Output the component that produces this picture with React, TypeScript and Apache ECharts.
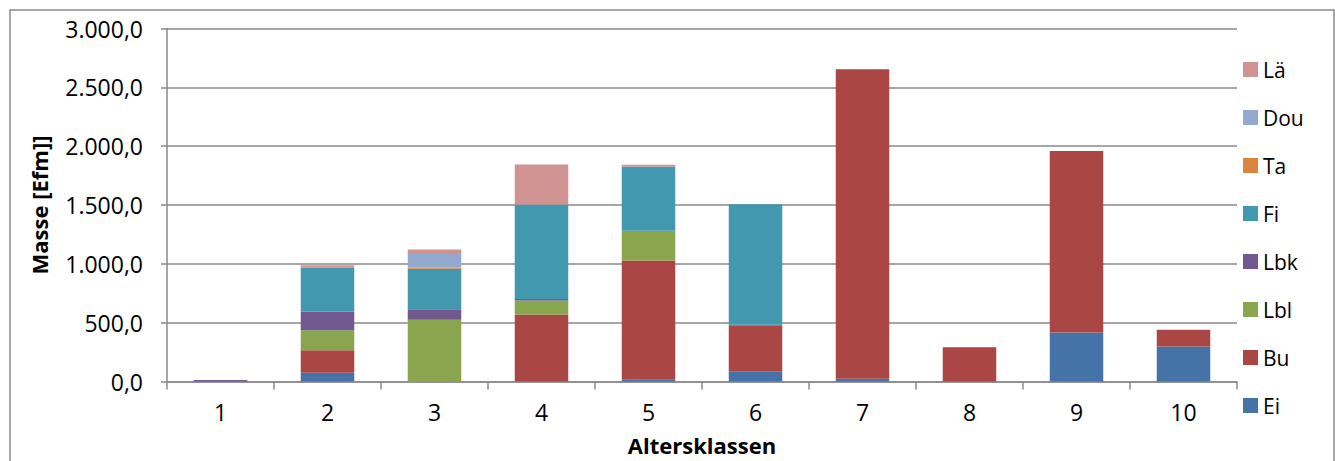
import React, { useEffect, useRef } from "react";
import * as echarts from "echarts";

const categories = ["1", "2", "3", "4", "5", "6", "7", "8", "9", "10"];
const seriesNames = ["Ei", "Bu", "Lbl", "Lbk", "Fi", "Ta", "Dou", "Lä"];
const ei = [0, 75, 0, 0, 15, 88, 23, 0, 416, 297];
const bu = [0, 190, 0, 570, 1013, 385, 2630, 292, 1542, 142];
const lbl = [0, 170, 524, 119, 253, 0, 0, 0, 0, 0];
const lbk = [12, 159, 91, 12, 0, 10, 0, 0, 0, 0];
const fi = [0, 374, 343, 804, 546, 1023, 0, 0, 0, 0];
const ta = [0, 0, 10, 0, 0, 0, 0, 0, 0, 0];
const dou = [0, 0, 116, 0, 0, 0, 0, 0, 0, 0];
const lae = [0, 20, 37, 340, 15, 0, 0, 0, 0, 0];
const seriesValues = [ei, bu, lbl, lbk, fi, ta, dou, lae];
const colors = ["#4572A7", "#AA4643", "#89A54E", "#71588F", "#4198AF", "#DB843D", "#93A9CF", "#D19392"];
const yTicks = [0, 500, 1000, 1500, 2000, 2500, 3000];

const fmt = (v: number) => {
  const fixed = v.toFixed(1);
  const [intPart, dec] = fixed.split(".");
  const withDots = intPart.replace(/\B(?=(\d{3})+(?!\d))/g, ".");
  return withDots + "," + dec;
};

const FONT = "Open Sans";

export default function App() {
  const ref = useRef<HTMLDivElement>(null);
  useEffect(() => {
    if (!ref.current) return;
    const chart = echarts.init(ref.current, undefined, { renderer: "svg" });
    chart.setOption({
      animation: false,
      backgroundColor: "#ffffff",
      color: colors,
      textStyle: { fontFamily: FONT },
      graphic: [
        {
          type: "rect",
          shape: { x: 10, y: 10, width: 1324, height: 480 },
          style: { fill: "none", stroke: "#8c8c8c", lineWidth: 1.5 },
          silent: true,
        },
      ],
      grid: { left: 167, right: 98, top: 28.5, bottom: 79.5, containLabel: false },
      legend: {
        type: "plain",
        orient: "vertical",
        left: 1243,
        top: 59,
        padding: 0,
        itemWidth: 15,
        itemHeight: 15,
        itemGap: 27,
        icon: "rect",
        data: [...seriesNames].reverse(),
        textStyle: { fontFamily: FONT, fontSize: 21, color: "#000" },
        selectedMode: false,
      },
      xAxis: {
        type: "category",
        data: categories,
        name: "Altersklassen",
        nameLocation: "middle",
        nameGap: 52,
        nameTextStyle: { fontFamily: FONT, fontSize: 22, fontWeight: "bold", color: "#000" },
        axisLine: { lineStyle: { color: "#8a8a8a", width: 1.5 } },
        axisTick: { show: true, length: 8, lineStyle: { color: "#8a8a8a", width: 1.5 } },
        axisLabel: { fontFamily: FONT, fontSize: 23, color: "#000", margin: 19 },
      },
      yAxis: {
        type: "value",
        min: 0,
        max: 3000,
        interval: 500,
        name: "Masse [Efm]]",
        nameLocation: "middle",
        nameGap: 117,
        nameTextStyle: { fontFamily: FONT, fontSize: 22, fontWeight: "bold", color: "#000" },
        axisLine: { show: true, lineStyle: { color: "#8a8a8a", width: 1.5 } },
        axisTick: { show: true, length: 6, lineStyle: { color: "#8a8a8a", width: 1.5 } },
        axisLabel: {
          fontFamily: FONT,
          fontSize: 23,
          color: "#000",
          margin: 24,
          formatter: (v: number) => (yTicks.includes(v) ? fmt(v) : ""),
        },
        splitLine: { show: true, lineStyle: { color: "#8a8a8a", width: 1.5 } },
      },
      series: seriesNames.map((name, i) => ({
        name,
        type: "bar",
        stack: "total",
        barWidth: "50%",
        data: seriesValues[i],
        itemStyle: { color: colors[i] },
      })),
    });
    return () => chart.dispose();
  }, []);
  return (
    <div
      ref={ref}
      style={{ position: "fixed", left: 0, top: 0, width: 1335, height: 461 }}
    />
  );
}
